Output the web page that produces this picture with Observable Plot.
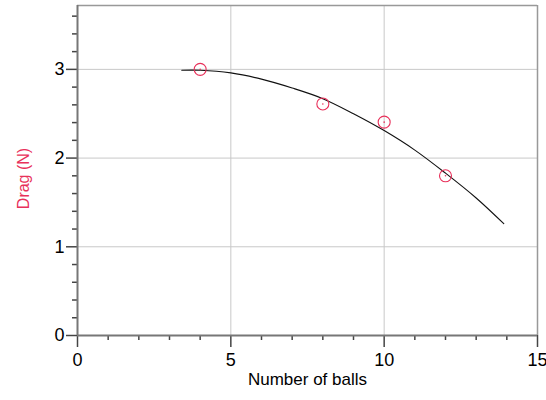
<!DOCTYPE html>
<html>
<head>
<meta charset="utf-8">
<script src="https://cdn.jsdelivr.net/npm/d3@7"></script>
<script src="https://cdn.jsdelivr.net/npm/@observablehq/plot@0.6"></script>
<style>
  html, body { margin: 0; padding: 0; background: #fff; }
  #chart svg { display: block; font-family: "Liberation Sans", Arial, sans-serif; }
</style>
</head>
<body>
<div id="chart"></div>
<script>
// Measured points
const ballCounts = [4, 8, 10, 12];
const dragValues = [3.0, 2.61, 2.405, 1.80];

// Fitted curve
const fitX = [3.4, 4, 5, 6, 7, 8, 9, 10, 11, 12, 13, 13.9];
const fitY = [2.99, 2.99, 2.96, 2.89, 2.79, 2.67, 2.50, 2.31, 2.09, 1.83, 1.55, 1.26];

// Axis ticks
const xMajor = [0, 5, 10, 15];
const xMinor = [1, 2, 3, 4, 6, 7, 8, 9, 11, 12, 13, 14];
const yMajor = [0, 1, 2, 3];
const yMinor = [0.2, 0.4, 0.6, 0.8, 1.2, 1.4, 1.6, 1.8, 2.2, 2.4, 2.6, 2.8, 3.2, 3.4, 3.6];
const xGrid = [5, 10];
const yGrid = [1, 2, 3];
const yMax = 3.72;

const points = ballCounts.map((x, i) => ({x, y: dragValues[i]}));
const fit = fitX.map((x, i) => ({x, y: fitY[i]}));

const red = "#e8305a";

const chart = Plot.plot({
  width: 546,
  height: 400,
  marginLeft: 77,
  marginRight: 9,
  marginTop: 5,
  marginBottom: 65,
  style: {fontFamily: "'Liberation Sans', Arial, sans-serif", background: "#fff"},
  x: {domain: [0, 15], label: null},
  y: {domain: [0, yMax], label: null},
  marks: [
    Plot.gridX(xGrid, {stroke: "#c8c8c8", strokeOpacity: 1, strokeWidth: 1}),
    Plot.gridY(yGrid, {stroke: "#c8c8c8", strokeOpacity: 1, strokeWidth: 1}),
    Plot.ruleX([15], {stroke: "#999", strokeWidth: 1.5}),
    Plot.ruleY([yMax], {stroke: "#999", strokeWidth: 1.5}),
    Plot.axisX(xMinor, {tickSize: 5, text: null, stroke: "#444", strokeWidth: 1.5, label: null}),
    Plot.axisY(yMinor, {tickSize: 5, text: null, stroke: "#444", strokeWidth: 1.5, label: null}),
    Plot.axisX(xMajor, {tickSize: 12, tickPadding: 6, fontSize: 18, stroke: "#444", strokeWidth: 1.5, fill: "#000", label: null, tickFormat: d3.format("d")}),
    Plot.axisY(yMajor, {tickSize: 11, tickPadding: 2, fontSize: 18, stroke: "#444", strokeWidth: 1.5, fill: "#000", label: null, tickFormat: d3.format("d")}),
    Plot.ruleX([0], {stroke: "#777", strokeWidth: 2}),
    Plot.ruleY([0], {stroke: "#777", strokeWidth: 2}),
    Plot.line(fit, {x: "x", y: "y", curve: "catmull-rom", stroke: "#111", strokeWidth: 1.1}),
    Plot.dot(points, {x: "x", y: "y", r: 6, stroke: red, strokeWidth: 1.1, fill: "none"}),
    Plot.dot(points, {x: "x", y: "y", r: 0.8, fill: red, stroke: "none"}),
    Plot.text(["Number of balls"], {frameAnchor: "bottom", dy: 49, fontSize: 17, fill: "#000"}),
    Plot.text(["Drag (N)"], {frameAnchor: "left", textAnchor: "middle", dx: -54, dy: 8, rotate: -90, fontSize: 16, fill: red})
  ]
});
document.getElementById("chart").append(chart);
</script>
</body>
</html>
